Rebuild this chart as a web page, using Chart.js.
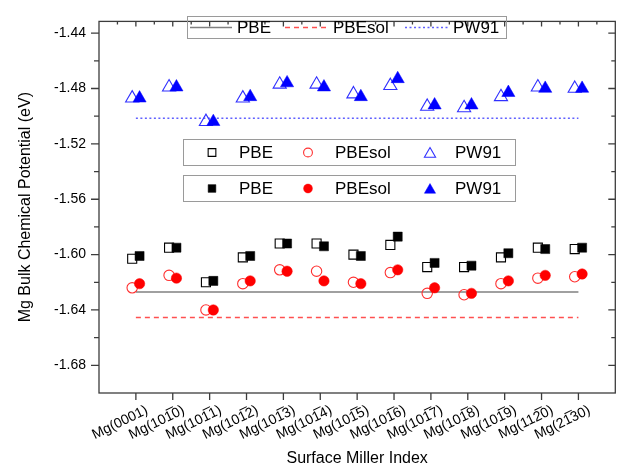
<!DOCTYPE html>
<html><head><meta charset="utf-8">
<script src="https://cdn.jsdelivr.net/npm/chart.js@4.4.1/dist/chart.umd.min.js"></script>
<style>html,body{margin:0;padding:0;background:#fff;}</style>
</head><body>
<canvas id="c" width="624" height="471"></canvas>
<script>
// ---------- data ----------
const categories = ['Mg(0001)','Mg(101\u03050)','Mg(101\u03051)','Mg(101\u03052)','Mg(101\u03053)','Mg(101\u03054)','Mg(101\u03055)','Mg(101\u03056)','Mg(101\u03057)','Mg(101\u03058)','Mg(101\u03059)','Mg(112\u03050)','Mg(21\u030530)'];
const yTicks = [-1.68,-1.64,-1.60,-1.56,-1.52,-1.48,-1.44];
const pbeOpen    = [-1.603,-1.595,-1.620,-1.602,-1.592,-1.592,-1.600,-1.593,-1.609,-1.609,-1.602,-1.595,-1.596];
const pbeFilled  = [-1.601,-1.595,-1.619,-1.601,-1.592,-1.594,-1.601,-1.587,-1.606,-1.608,-1.599,-1.596,-1.595];
const pbesolOpen   = [-1.624,-1.615,-1.640,-1.621,-1.611,-1.612,-1.620,-1.613,-1.628,-1.629,-1.621,-1.617,-1.616];
const pbesolFilled = [-1.621,-1.617,-1.640,-1.619,-1.612,-1.619,-1.621,-1.611,-1.624,-1.628,-1.619,-1.615,-1.614];
const pw91Open   = [-1.487,-1.479,-1.504,-1.487,-1.477,-1.477,-1.484,-1.478,-1.493,-1.494,-1.486,-1.479,-1.480];
const pw91Filled = [-1.487,-1.479,-1.504,-1.486,-1.476,-1.479,-1.486,-1.473,-1.492,-1.492,-1.483,-1.480,-1.480];
const bulkPBE = -1.627, bulkPBEsol = -1.6455, bulkPW91 = -1.5015;
const seriesNames = ['PBE','PBEsol','PW91'];

// ---------- helpers ----------
const FONT = "'Liberation Sans', Arial, sans-serif";
const openShift = -0.1, filledShift = 0.1;
const pts = (arr, dx) => arr.map((v, i) => ({x: i + 1 + dx, y: v}));
const hline = v => [{x: 1, y: v}, {x: categories.length, y: v}];

const lineStyles = [
  {color: '#808080', dash: []},
  {color: '#ff5050', dash: [5, 4]},
  {color: '#6060ff', dash: [2, 2.5]}
];
const markerStyles = [
  {style: 'rect', r: 6.4, open: '#000000', fill: '#000000'},
  {style: 'circle', r: 5.2, open: '#ff3030', fill: '#ff0000'},
  {style: 'triangle', r: 7.6, open: '#3030ff', fill: '#0000ff'}
];
const openData = [pbeOpen, pbesolOpen, pw91Open];
const filledData = [pbeFilled, pbesolFilled, pw91Filled];
const bulkData = [bulkPBE, bulkPBEsol, bulkPW91];

const datasets = [];
for (let k = 0; k < 3; k++) {
  datasets.push({label: seriesNames[k] + ' filled', data: pts(filledData[k], filledShift),
    pointStyle: markerStyles[k].style, pointRadius: markerStyles[k].r, pointHoverRadius: markerStyles[k].r,
    backgroundColor: markerStyles[k].fill, borderColor: markerStyles[k].fill, pointBorderWidth: 0.5, showLine: false, order: 1});
}
for (let k = 0; k < 3; k++) {
  datasets.push({label: seriesNames[k] + ' open', data: pts(openData[k], openShift),
    pointStyle: markerStyles[k].style, pointRadius: markerStyles[k].r, pointHoverRadius: markerStyles[k].r,
    backgroundColor: 'rgba(255,255,255,0)', borderColor: markerStyles[k].open, pointBorderWidth: 1.1, showLine: false, order: 2});
}
for (let k = 0; k < 3; k++) {
  datasets.push({label: seriesNames[k] + ' bulk', data: hline(bulkData[k]), showLine: true, pointRadius: 0,
    borderColor: lineStyles[k].color, borderDash: lineStyles[k].dash, borderWidth: 1.6, order: 3});
}

const framePlugin = {
  id: 'frame',
  beforeDraw(chart) {
    const ctx = chart.ctx; ctx.save(); ctx.fillStyle = '#fff';
    ctx.fillRect(0, 0, chart.width, chart.height); ctx.restore();
  },
  afterDatasetsDraw(chart) {
    const {ctx, chartArea: a, scales: {x, y}} = chart;
    ctx.save();
    ctx.strokeStyle = '#3c3c3c'; ctx.lineWidth = 1.3;
    ctx.strokeRect(a.left, a.top, a.right - a.left, a.bottom - a.top);
    ctx.beginPath();
    const yMin = y.min, yMax = y.max;
    yTicks.forEach(v => {
      const py = y.getPixelForValue(v);
      ctx.moveTo(a.left - 8, py); ctx.lineTo(a.left, py);
      ctx.moveTo(a.right, py); ctx.lineTo(a.right - 7, py);
      const m = +(v + 0.02).toFixed(3);
      if (m < yMax) {
        const pm = y.getPixelForValue(m);
        ctx.moveTo(a.left - 5, pm); ctx.lineTo(a.left, pm);
        ctx.moveTo(a.right, pm); ctx.lineTo(a.right - 4, pm);
      }
    });
    const m0 = +(yTicks[0] - 0.02).toFixed(3);
    if (m0 > yMin) { const pm = y.getPixelForValue(m0); ctx.moveTo(a.left - 5, pm); ctx.lineTo(a.left, pm); ctx.moveTo(a.right, pm); ctx.lineTo(a.right - 4, pm); }
    for (let i = 1; i <= categories.length; i++) {
      const px = x.getPixelForValue(i);
      ctx.moveTo(px, a.bottom); ctx.lineTo(px, a.bottom + 7);
      ctx.moveTo(px, a.top); ctx.lineTo(px, a.top + 5);
      const ph = x.getPixelForValue(i - 0.5);
      ctx.moveTo(ph, a.top); ctx.lineTo(ph, a.top + 3);
    }
    const pl = x.getPixelForValue(categories.length + 0.5);
    ctx.moveTo(pl, a.top); ctx.lineTo(pl, a.top + 3);
    ctx.stroke();
    ctx.restore();
  },
  afterDraw(chart) {
    const ctx = chart.ctx;
    ctx.save();
    ctx.font = '17px ' + FONT; ctx.fillStyle = '#000'; ctx.textBaseline = 'middle'; ctx.textAlign = 'left';
    // legend 1: lines
    ctx.strokeStyle = '#9a9a9a'; ctx.lineWidth = 1; ctx.setLineDash([]);
    ctx.strokeRect(187.5, 16.5, 319, 22);
    const lx = [[190, 232, 237], [285, 328, 333], [405, 448, 453]];
    for (let k = 0; k < 3; k++) {
      ctx.save(); ctx.strokeStyle = lineStyles[k].color; ctx.lineWidth = 1.6; ctx.setLineDash(lineStyles[k].dash);
      ctx.beginPath(); ctx.moveTo(lx[k][0], 27.5); ctx.lineTo(lx[k][1], 27.5); ctx.stroke(); ctx.restore();
      ctx.fillText(seriesNames[k], lx[k][2], 28);
    }
    // legend 2 & 3: markers
    const mx = [[212, 239], [308, 335], [430, 455]];
    const boxes = [{y: 139.5, cy: 152.5, open: true}, {y: 175.5, cy: 188.5, open: false}];
    boxes.forEach(b => {
      ctx.strokeStyle = '#9a9a9a'; ctx.lineWidth = 1;
      ctx.strokeRect(183.5, b.y, 332, 26);
      for (let k = 0; k < 3; k++) {
        const ms = markerStyles[k];
        ctx.save();
        ctx.lineWidth = b.open ? 1.1 : 0.5;
        ctx.strokeStyle = b.open ? ms.open : ms.fill;
        ctx.fillStyle = b.open ? 'rgba(255,255,255,0)' : ms.fill;
        Chart.helpers.drawPoint(ctx, {pointStyle: ms.style, radius: ms.r * 0.85, rotation: 0, borderWidth: ctx.lineWidth}, mx[k][0], b.cy + (ms.style === 'triangle' ? 1.5 : 0));
        ctx.restore();
        ctx.fillStyle = '#000';
        ctx.fillText(seriesNames[k], mx[k][1], b.cy + 0.5);
      }
    });
    ctx.restore();
  }
};

new Chart(document.getElementById('c'), {
  type: 'scatter',
  data: {datasets},
  plugins: [framePlugin],
  options: {
    responsive: false, animation: false, devicePixelRatio: 1,
    layout: {padding: {top: 13, right: 7, left: 0, bottom: 0}},
    plugins: {legend: {display: false}, tooltip: {enabled: false}},
    scales: {
      x: {
        type: 'linear', min: 0, max: categories.length + 1,
        grid: {display: false, drawTicks: false}, border: {display: false},
        afterBuildTicks: s => { s.ticks = categories.map((c, i) => ({value: i + 1})); },
        afterFit: s => { s.height = 78; },
        ticks: {autoSkip: false, maxRotation: 26, minRotation: 26, padding: 9, labelOffset: 11,
          color: '#000', font: {family: FONT, size: 14},
          callback: v => categories[Math.round(v) - 1] || ''},
        title: {display: true, text: 'Surface Miller Index', color: '#000', font: {family: FONT, size: 16}, padding: {top: 0, bottom: 3}}
      },
      y: {
        type: 'linear', min: -1.70, max: -1.4315,
        grid: {display: false, drawTicks: false}, border: {display: false},
        afterBuildTicks: s => { s.ticks = yTicks.map(v => ({value: v})); },
        afterFit: s => { s.width = 99; },
        ticks: {padding: 13, color: '#000', font: {family: FONT, size: 14}, callback: v => v.toFixed(2)},
        title: {display: true, text: 'Mg Bulk Chemical Potential (eV)', color: '#000', font: {family: FONT, size: 16}, padding: {top: 16, bottom: 0}}
      }
    }
  }
});
</script>
</body></html>
